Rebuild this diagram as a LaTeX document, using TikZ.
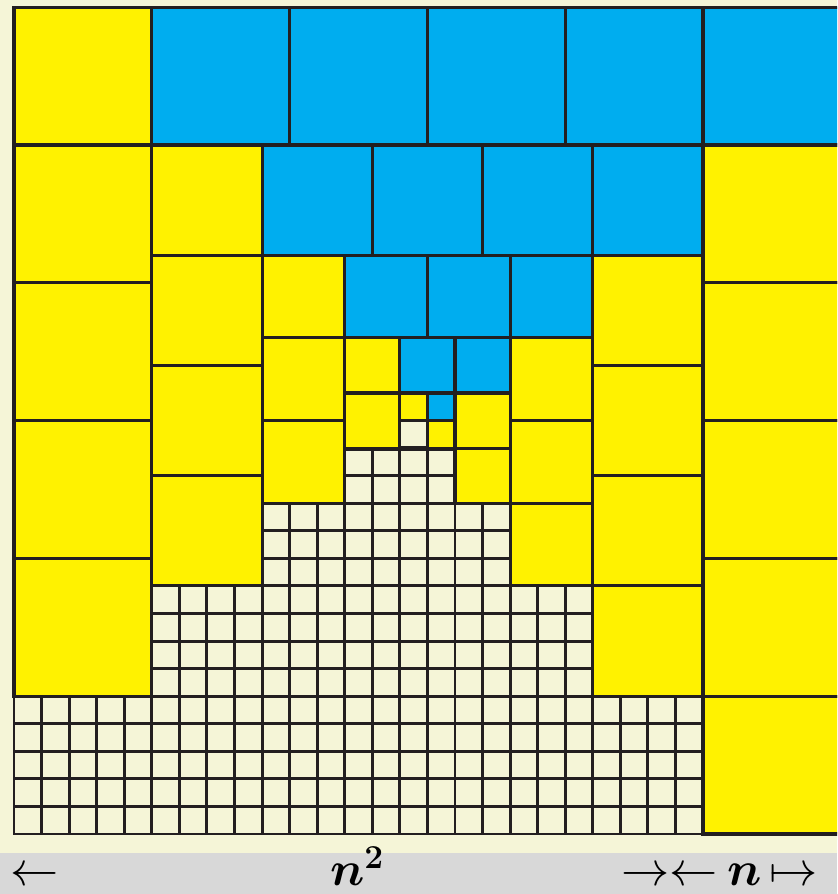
\documentclass[tikz,border=0pt]{standalone}
\usepackage{amsmath,amssymb}
\definecolor{pfyellow}{RGB}{255,242,0}
\definecolor{pfblue}{RGB}{0,173,239}
\definecolor{pfcream}{RGB}{245,245,215}
\definecolor{pfline}{RGB}{35,31,32}
\definecolor{pfgray}{RGB}{216,216,216}
\usepackage{tikz}

\begin{document}
\begin{tikzpicture}[x=0.5cm, y=0.5cm,
  yelbox/.style={draw=pfline, line width=1.6pt, fill=pfyellow},
  bluebox/.style={draw=pfline, line width=1.6pt, fill=pfblue},
  cellgrid/.style={draw=pfline, line width=1.5pt, line cap=rect, step=0.5cm},
  lbl/.style={font=\fontsize{25}{25}\selectfont, anchor=base, inner sep=0pt}]

% --- Canvas ---
\useasboundingbox (-0.508,-2.177) rectangle (29.862,30.26);
\clip (-0.508,-2.177) rectangle (29.862,30.26);
\fill[pfcream] (-0.508,-0.69) rectangle (29.862,30.26);
\fill[pfgray] (-0.508,-2.177) rectangle (29.862,-0.69);

% --- Unit cells ---
\draw[cellgrid] (0,0) grid (25,5);
\draw[cellgrid] (5,5) grid (21,9);
\draw[cellgrid] (9,9) grid (18,12);
\draw[cellgrid] (12,12) grid (16,14);
\draw[cellgrid] (14,14) grid (15,15);
\draw[pfline, line width=2.6pt] (12,14) -- (16,14);

% --- 5x5 squares ---
\foreach \y in {5,10,...,25} \draw[yelbox] (0,\y) rectangle ++(5,5);
\foreach \x in {5,10,...,25} \draw[bluebox] (\x,25) rectangle ++(5,5);
\foreach \y in {0,5,...,20} \draw[yelbox] (25,\y) rectangle ++(5,5);

% --- 4x4 squares ---
\foreach \y in {9,13,...,21} \draw[yelbox] (5,\y) rectangle ++(4,4);
\foreach \x in {9,13,...,21} \draw[bluebox] (\x,21) rectangle ++(4,4);
\foreach \y in {5,9,...,17} \draw[yelbox] (21,\y) rectangle ++(4,4);

% --- 3x3 squares ---
\foreach \y in {12,15,18} \draw[yelbox] (9,\y) rectangle ++(3,3);
\foreach \x in {12,15,18} \draw[bluebox] (\x,18) rectangle ++(3,3);
\foreach \y in {9,12,15} \draw[yelbox] (18,\y) rectangle ++(3,3);

% --- 2x2 squares ---
\foreach \y in {14,16} \draw[yelbox] (12,\y) rectangle ++(2,2);
\foreach \x in {14,16} \draw[bluebox] (\x,16) rectangle ++(2,2);
\foreach \y in {12,14} \draw[yelbox] (16,\y) rectangle ++(2,2);

% --- 1x1 squares ---
\draw[yelbox] (14,15) rectangle ++(1,1);
\draw[bluebox] (15,15) rectangle ++(1,1);
\draw[yelbox] (15,14) rectangle ++(1,1);

% --- Width labels ---
\node[lbl] (arrowL) at (0.75,-1.88) {$\leftarrow$};
\node[lbl] (nsq) at (12.45,-1.88) {$\boldsymbol{n}^{\mathbf{2}}$};
\node[lbl] (arrowsRL) at (23.79,-1.88) {$\rightarrow\leftarrow$};
\node[lbl] (nlab) at (26.52,-1.88) {$\boldsymbol{n}$};
\node[lbl] (mapsR) at (28.3,-1.88) {$\mapsto$};

\end{tikzpicture}
\end{document}
